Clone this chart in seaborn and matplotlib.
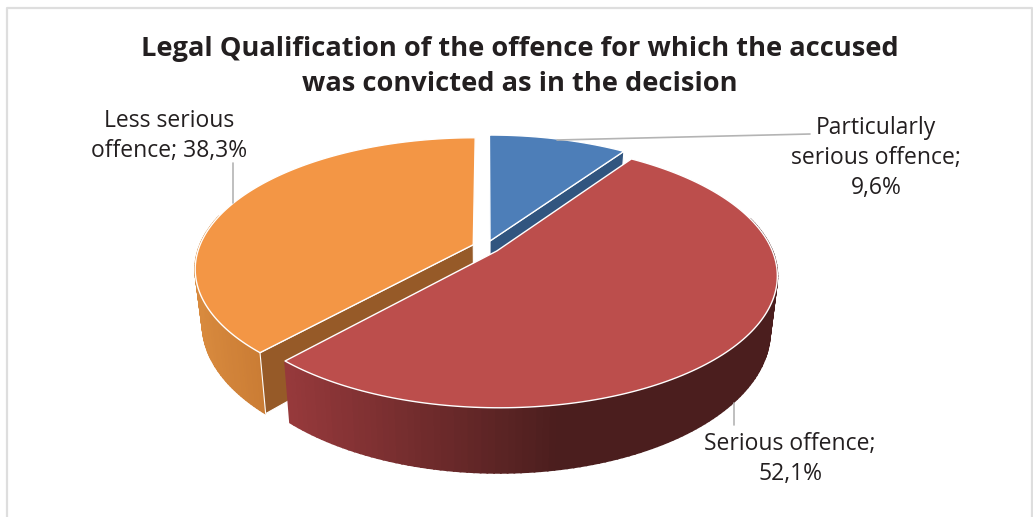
import numpy as np
import matplotlib
matplotlib.use("Agg")
import matplotlib.pyplot as plt
import seaborn as sns

# values
categories = ["Particularly\nserious offence;", "Serious offence;", "Less serious\noffence;"]
shares = [9.6, 52.1, 38.3]
label_breaks = ["\n", "\n", " "]
title_text = "Legal Qualification of the offence for which the accused\nwas convicted as in the decision"

top_colors = ["#4D7EB8", "#BC4E4C", "#F39645"]
cut_colors = ["#31557F", "#7A2E2E", "#965A28"]
rim_colors = [["#31557F", "#31557F"], ["#96393B", "#4B1E1E"], ["#D88A3E", "#C87A33"]]
explode = [0.05, 0.05, 0.05]

# where the pie sits on the canvas (pixels), k is the perspective strength
CX, CY = 486, 247
RX, RY = 274, 127
K = 0.18
DEPTH = 53
SHRINK = 0.025

sns.set_theme(style="white")
plt.rcParams["font.family"] = ["Open Sans", "DejaVu Sans"]


def project(x, y, z=0.0):
    w = 1 + K * y
    return CX + RX * x / w * (1 - SHRINK * z), CY - RY * y / w + DEPTH * z / w


fig = plt.figure(figsize=(10.33, 5.17), dpi=100)
ax = fig.add_axes([0, 0, 1, 1])
ax.set_xlim(0, 1033)
ax.set_ylim(517, 0)
ax.axis("off")

# chart frame
ax.plot([7, 7, 1032, 1032], [530, 8, 8, 530], color="#DEDEDE", lw=1.6)

# clockwise from 12 o'clock
edges = np.cumsum([0] + shares) / 100 * 2 * np.pi
mids = (edges[:-1] + edges[1:]) / 2


def slice_parts(i):
    t = np.linspace(edges[i], edges[i + 1], 160)
    ox, oy = explode[i] * np.sin(mids[i]), explode[i] * np.cos(mids[i])
    return t, ox, oy, ox + np.sin(t), oy + np.cos(t)


def draw_cut(i, end):
    t, ox, oy, x, y = slice_parts(i)
    k = -1 if end else 0
    px = [ox, x[k], x[k], ox]
    py = [oy, y[k], y[k], oy]
    pz = [0, 0, 1, 1]
    sx, sy = project(np.array(px), np.array(py), np.array(pz))
    ax.fill(sx, sy, color=cut_colors[i], ec="white", lw=0.8)


def draw_rim(i):
    t, ox, oy, x, y = slice_parts(i)
    front = y < 0.25
    sx0, sy0 = project(x, y)
    sx1, sy1 = project(x, y, 1.0)
    pal = sns.blend_palette(rim_colors[i], 60)
    lo, hi = (287, 560) if i == 1 else (195, 270)
    for j in range(len(t) - 1):
        if not front[j]:
            continue
        f = np.clip((sx0[j] - lo) / (hi - lo), 0, 1)
        c = pal[int(f * 59)]
        ax.fill([sx0[j], sx0[j + 1], sx1[j + 1], sx1[j]],
                [sy0[j], sy0[j + 1], sy1[j + 1], sy1[j]],
                color=c, lw=1.3)


def draw_top(i):
    t, ox, oy, x, y = slice_parts(i)
    sx, sy = project(np.r_[ox, x], np.r_[oy, y])
    ax.fill(sx, sy, facecolor=top_colors[i], edgecolor="white", lw=1.0, joinstyle="round")


# back to front
draw_cut(0, True)
draw_top(0)
draw_rim(2)
draw_cut(2, False)
draw_top(2)
draw_rim(1)
draw_top(1)

# leader lines
ax.plot([557, 810], [140, 134], color="#B4B4B4", lw=1.2)
ax.plot([233, 233], [163, 203], color="#B4B4B4", lw=1.2)
ax.plot([734, 734], [403, 425], color="#B4B4B4", lw=1.2)

# labels
label_pos = [(876, 158), (790, 459), (169, 136)]
for name, val, br, (lx, ly) in zip(categories, shares, label_breaks, label_pos):
    txt = f"{name}{br}{val:.1f}%".replace(".", ",")
    ax.text(lx, ly, txt, ha="center", va="center", fontsize=16.5, color="#231F20", linespacing=1.33)

ax.text(520, 66.5, title_text, ha="center", va="center", fontsize=19.6, fontweight="bold",
        color="#231F20", linespacing=1.45)

fig.savefig("out.png", dpi=100)
